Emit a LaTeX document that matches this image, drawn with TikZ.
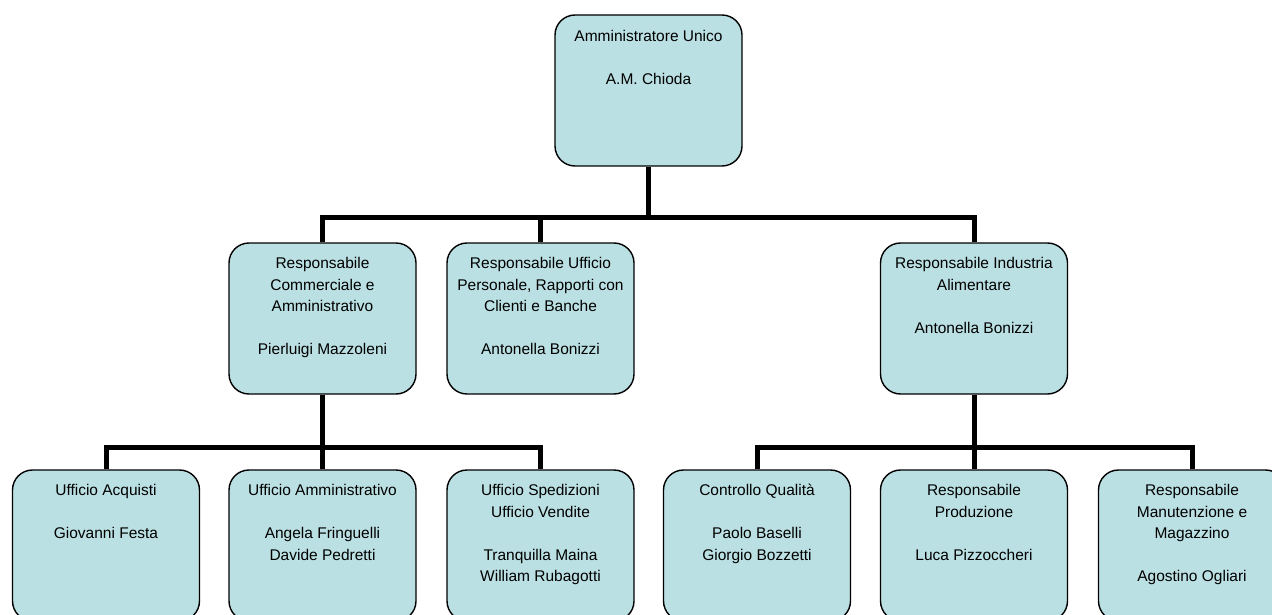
\documentclass[tikz,border=0pt]{standalone}
\usepackage{fontspec}
\setmainfont{Liberation Sans}
\definecolor{boxfill}{RGB}{187,224,227}
\begin{document}
\begin{tikzpicture}[x=1pt,y=-1pt,
  orgbox/.style={draw=black, line width=1.4pt, fill=boxfill, rounded corners=20pt,
    minimum width=187pt, minimum height=151pt, inner sep=0pt},
  boxtext/.style={font=\fontsize{15.5}{21.5}\selectfont, align=center, inner sep=0pt, anchor=north},
  conn/.style={line width=5pt, draw=black, line join=miter}]
\useasboundingbox (0,0) rectangle (1272,615);
% boxes
\node[orgbox] (T) at (648.5,90.5) {};
\node[orgbox] (A) at (322.5,318.5) {};
\node[orgbox] (B) at (540.5,318.5) {};
\node[orgbox] (C) at (974,318.5) {};
\node[orgbox] (b1) at (106,545.5) {};
\node[orgbox] (b2) at (322.5,545.5) {};
\node[orgbox] (b3) at (540.5,545.5) {};
\node[orgbox] (b4) at (757,545.5) {};
\node[orgbox] (b5) at (974,545.5) {};
\node[orgbox] (b6) at (1192,545.5) {};
% bus coordinates
\coordinate (bus1) at (648.5,217);
\coordinate (bus2) at (322.5,447);
\coordinate (bus3) at (974,447);
% connectors
\draw[conn] (T.south) -- (bus1) -| (A.north);
\draw[conn] (bus1) -| (B.north);
\draw[conn] (bus1) -| (C.north);
\draw[conn] (A.south) -- (b2.north);
\draw[conn] (bus2) -| (b1.north);
\draw[conn] (bus2) -| (b3.north);
\draw[conn] (C.south) -- (b5.north);
\draw[conn] (bus3) -| (b4.north);
\draw[conn] (bus3) -| (b6.north);
% texts
\node[boxtext] (Tt) at ([yshift=-16pt]T.north) {Amministratore Unico\\[21.5pt]A.M. Chioda};
\node[boxtext] (At) at ([yshift=-15pt]A.north) {Responsabile\\Commerciale e\\Amministrativo\\[21.5pt]Pierluigi Mazzoleni};
\node[boxtext] (Bt) at ([yshift=-15pt]B.north) {Responsabile Ufficio\\Personale, Rapporti con\\Clienti e Banche\\[21.5pt]Antonella Bonizzi};
\node[boxtext] (Ct) at ([yshift=-15pt]C.north) {Responsabile Industria\\Alimentare\\[21.5pt]Antonella Bonizzi};
\node[boxtext] (b1t) at ([yshift=-15pt]b1.north) {Ufficio Acquisti\\[21.5pt]Giovanni Festa};
\node[boxtext] (b2t) at ([yshift=-15pt]b2.north) {Ufficio Amministrativo\\[21.5pt]Angela Fringuelli\\Davide Pedretti};
\node[boxtext] (b3t) at ([yshift=-15pt]b3.north) {Ufficio Spedizioni\\Ufficio Vendite\\[21.5pt]Tranquilla Maina\\William Rubagotti};
\node[boxtext] (b4t) at ([yshift=-15pt]b4.north) {Controllo Qualità\\[21.5pt]Paolo Baselli\\Giorgio Bozzetti};
\node[boxtext] (b5t) at ([yshift=-15pt]b5.north) {Responsabile\\Produzione\\[21.5pt]Luca Pizzoccheri};
\node[boxtext] (b6t) at ([yshift=-15pt]b6.north) {Responsabile\\Manutenzione e\\Magazzino\\[21.5pt]Agostino Ogliari};
\end{tikzpicture}
\end{document}
